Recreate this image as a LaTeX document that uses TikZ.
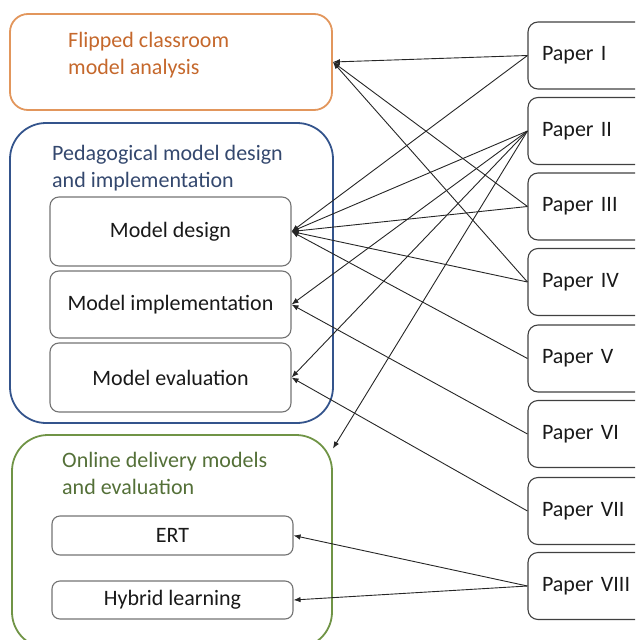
\documentclass[tikz,border=0pt]{standalone}
\usepackage{fontspec}
\setmainfont{Carlito}
\usetikzlibrary{arrows.meta}
\definecolor{orgB}{RGB}{226,150,92}
\definecolor{orgT}{RGB}{197,104,44}
\definecolor{bluB}{RGB}{52,84,140}
\definecolor{bluT}{RGB}{52,72,110}
\definecolor{grnB}{RGB}{112,148,70}
\definecolor{grnT}{RGB}{84,112,56}
\definecolor{txt}{RGB}{25,25,25}
\tikzset{
  bigfont/.style={font=\fontsize{22}{27}\selectfont},
  group/.style={draw, line width=1.8pt, inner sep=0pt},
  title/.style={bigfont, anchor=north west, align=left, inner sep=0pt},
  sub/.style={bigfont, draw=black!55, line width=1.1pt, rounded corners=9pt, text=txt, minimum width=241pt, inner sep=0pt},
  paper/.style={bigfont, draw=black!75, line width=1.1pt, rounded corners=10pt, text=txt, minimum width=118pt, minimum height=67pt, text width=90pt, align=left, inner xsep=14pt, inner ysep=0pt},
  conn/.style={draw=black!85, line width=0.9pt, -{Latex[length=7pt,width=5.5pt]}}
}
\begin{document}
\begin{tikzpicture}[x=1pt,y=-1pt]
\useasboundingbox (0,0) rectangle (635,640);
\clip (0,0) rectangle (635,640);
% group boxes
\node[group, draw=orgB, rounded corners=18pt, minimum width=322pt, minimum height=96pt] (flip) at (171,62) {};
\node[title, text=orgT] (flipT) at (68,32) {Flipped classroom\\model analysis};
\node[group, draw=bluB, rounded corners=36pt, minimum width=323pt, minimum height=300pt] (ped) at (171.5,273) {};
\node[title, text=bluT] (pedT) at (52,145) {Pedagogical model design\\and implementation};
\node[group, draw=grnB, rounded corners=36pt, minimum width=320pt, minimum height=213pt] (onl) at (172,541.5) {};
\node[title, text=grnT] (onlT) at (62,452) {Online delivery models\\and evaluation};
% sub boxes
\node[sub, minimum height=69pt] (des) at (170.5,231.5) {Model design};
\node[sub, minimum height=67pt] (imp) at (170.5,304.5) {Model implementation};
\node[sub, minimum height=69pt] (eva) at (170.5,377.5) {Model evaluation};
\node[sub, minimum height=39pt, rounded corners=8pt] (ert) at (172.5,535.5) {ERT};
\node[sub, minimum height=38pt, rounded corners=8pt] (hyb) at (172.5,600) {Hybrid learning};
% papers
\node[paper] (p1) at (587,55.5) {Paper I};
\node[paper] (p2) at (587,131) {Paper II};
\node[paper] (p3) at (587,206.5) {Paper III};
\node[paper] (p4) at (587,282) {Paper IV};
\node[paper] (p5) at (587,358.5) {Paper V};
\node[paper] (p6) at (587,434) {Paper VI};
\node[paper] (p7) at (587,511) {Paper VII};
\node[paper] (p8) at (587,586) {Paper VIII};
% connectors
\draw[conn] (p1.west) -- (flip.east);
\draw[conn] (p3.west) -- (flip.east);
\draw[conn] (p4.west) -- (flip.east);
\draw[conn] (p1.west) -- (des.east);
\draw[conn] (p2.west) -- (des.east);
\draw[conn] (p3.west) -- (des.east);
\draw[conn] (p4.west) -- (des.east);
\draw[conn] (p5.west) -- (des.east);
\draw[conn] (p2.west) -- (imp.east);
\draw[conn] (p2.west) -- (eva.east);
\draw[conn] (p2.west) -- (onl.30);
\draw[conn] (p6.west) -- (imp.east);
\draw[conn] (p7.west) -- (eva.east);
\draw[conn] (p8.west) -- (ert.east);
\draw[conn] (p8.west) -- (hyb.east);
\end{tikzpicture}
\end{document}
